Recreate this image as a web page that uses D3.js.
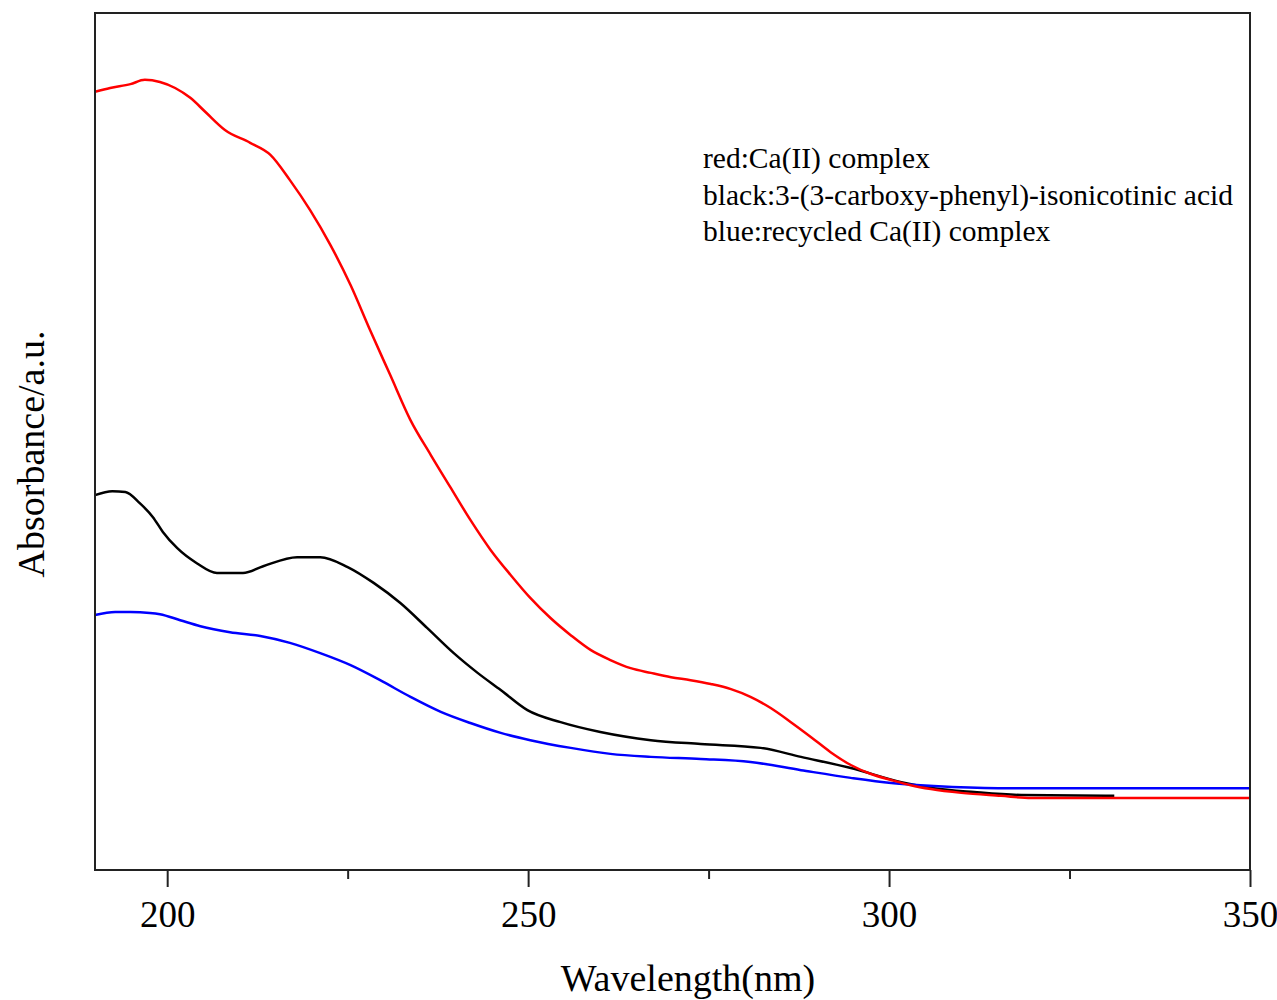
<!DOCTYPE html>
<html>
<head>
<meta charset="utf-8">
<script src="https://cdn.jsdelivr.net/npm/d3@7"></script>
<style>
  body { margin: 0; background: #fff; }
  text { font-family: "Liberation Serif", "Times New Roman", serif; fill: #000; }
</style>
</head>
<body>
<div id="chart"></div>
<script>
// wavelength (nm) / absorbance (a.u.)
const redWl = [190.0, 192.1, 194.9, 196.9, 199.0, 201.1, 203.2, 205.3, 208.0, 211.5, 214.3, 217.0, 219.8, 222.6, 225.4, 228.1, 230.9, 233.7, 236.5, 239.2, 242.0, 244.8, 247.6, 250.3, 253.1, 255.9, 258.7, 261.4, 264.2, 267.0, 269.8, 272.5, 275.3, 278.1, 280.8, 283.6, 286.4, 289.2, 291.9, 294.7, 297.5, 300.3, 303.0, 305.8, 310.0, 315.5, 319.7, 350.0]
const redAbs = [1.816, 1.825, 1.834, 1.844, 1.839, 1.825, 1.802, 1.769, 1.727, 1.697, 1.669, 1.610, 1.540, 1.459, 1.365, 1.260, 1.155, 1.050, 0.969, 0.894, 0.817, 0.747, 0.688, 0.635, 0.588, 0.548, 0.513, 0.490, 0.471, 0.460, 0.450, 0.443, 0.434, 0.422, 0.404, 0.378, 0.345, 0.310, 0.275, 0.245, 0.224, 0.210, 0.198, 0.189, 0.180, 0.173, 0.168, 0.168]

const blackWl = [190.0, 192.4, 194.2, 196.2, 198.0, 199.4, 201.4, 204.1, 206.9, 210.5, 213.3, 218.0, 221.2, 225.0, 228.6, 232.3, 236.0, 239.7, 243.0, 246.2, 249.9, 254.5, 260.0, 267.0, 273.9, 282.2, 287.8, 294.7, 301.7, 306.2, 311.8, 318.3, 331.2]
const blackAbs = [0.875, 0.884, 0.882, 0.856, 0.824, 0.789, 0.751, 0.716, 0.693, 0.693, 0.709, 0.730, 0.730, 0.707, 0.670, 0.623, 0.565, 0.506, 0.460, 0.420, 0.373, 0.345, 0.322, 0.303, 0.294, 0.285, 0.264, 0.238, 0.205, 0.191, 0.182, 0.175, 0.173]

const blueWl = [190.0, 192.8, 194.9, 197.6, 199.0, 201.8, 204.6, 208.7, 212.9, 217.0, 221.2, 225.4, 229.5, 233.7, 237.9, 242.0, 246.2, 250.3, 255.9, 261.4, 267.0, 273.9, 280.8, 287.8, 294.7, 300.3, 306.2, 315.1, 350.0]
const blueAbs = [0.595, 0.602, 0.602, 0.600, 0.597, 0.583, 0.569, 0.555, 0.546, 0.530, 0.506, 0.478, 0.443, 0.404, 0.369, 0.343, 0.320, 0.303, 0.285, 0.271, 0.264, 0.259, 0.252, 0.233, 0.215, 0.203, 0.196, 0.191, 0.191]

const majorTicks = [200, 250, 300, 350]
const minorTicks = [225, 275, 325]
const legendLines = ["red:Ca(II) complex", "black:3-(3-carboxy-phenyl)-isonicotinic acid", "blue:recycled Ca(II) complex"]

const width = 1277, height = 1000
const margin = { top: 13, right: 27, bottom: 130, left: 95 }

const svg = d3.select("#chart").append("svg")
  .attr("width", width)
  .attr("height", height)

const x = d3.scaleLinear().domain([190, 350]).range([margin.left, width - margin.right])
const y = d3.scaleLinear().domain([0, 2]).range([height - margin.bottom, margin.top])

const series = [
  { wl: blackWl, abs: blackAbs, color: "#000000" },
  { wl: blueWl, abs: blueAbs, color: "#0000ff" },
  { wl: redWl, abs: redAbs, color: "#ff0000" }
]

const line = d3.line()
  .x(d => x(d[0]))
  .y(d => y(d[1]))
  .curve(d3.curveMonotoneX)

svg.selectAll("path.spectrum")
  .data(series)
  .enter()
    .append("path")
    .attr("class", "spectrum")
    .attr("d", s => line(d3.zip(s.wl, s.abs)))
    .attr("fill", "none")
    .attr("stroke", s => s.color)
    .attr("stroke-width", 2.5)

// frame
svg.append("rect")
  .attr("x", x(190))
  .attr("y", y(2))
  .attr("width", x(350) - x(190))
  .attr("height", y(0) - y(2))
  .attr("fill", "none")
  .attr("stroke", "#222")
  .attr("stroke-width", 2)

// bottom axis
const xAxis = d3.axisBottom(x)
  .tickValues(majorTicks)
  .tickSize(17)
  .tickPadding(14)
  .tickFormat(d3.format("d"))

const gx = svg.append("g")
  .attr("transform", `translate(0,${y(0)})`)
  .call(xAxis)
gx.select(".domain").remove()
gx.selectAll(".tick line").attr("stroke", "#222").attr("stroke-width", 2)
gx.selectAll(".tick text")
  .attr("font-family", "Liberation Serif, serif")
  .attr("font-size", 37)

const xMinor = d3.axisBottom(x).tickValues(minorTicks).tickSize(9).tickFormat("")
const gm = svg.append("g")
  .attr("transform", `translate(0,${y(0)})`)
  .call(xMinor)
gm.select(".domain").remove()
gm.selectAll(".tick line").attr("stroke", "#222").attr("stroke-width", 2)

// axis titles
svg.append("text")
  .attr("x", 688)
  .attr("y", 991)
  .attr("text-anchor", "middle")
  .attr("font-size", 38)
  .text("Wavelength(nm)")

svg.append("text")
  .attr("transform", `translate(44,454) rotate(-90)`)
  .attr("text-anchor", "middle")
  .attr("font-size", 38)
  .text("Absorbance/a.u.")

// legend text
svg.selectAll("text.legend")
  .data(legendLines)
  .enter()
    .append("text")
    .attr("class", "legend")
    .attr("x", 703)
    .attr("y", (d, i) => 168 + i * 36.5)
    .attr("font-size", 29.5)
    .text(d => d)
</script>
</body>
</html>
